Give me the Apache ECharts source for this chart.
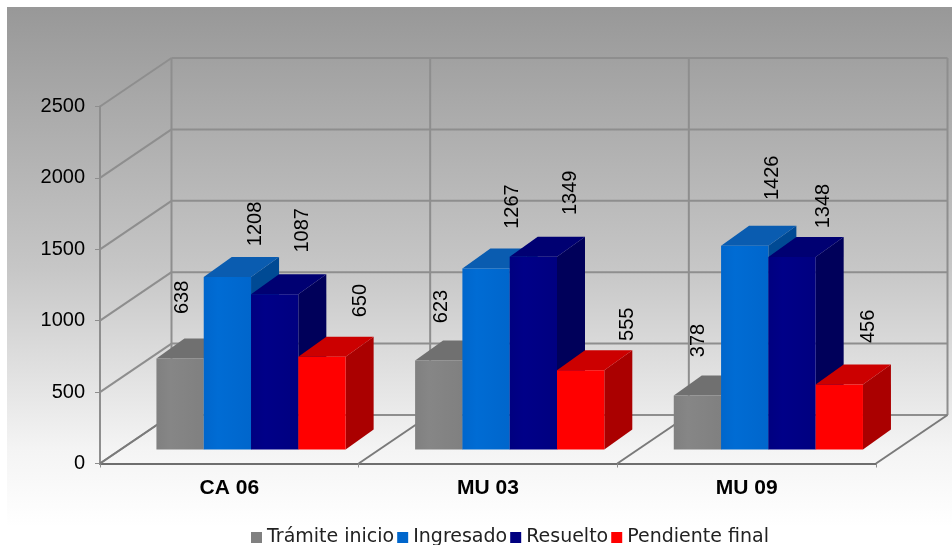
<!DOCTYPE html>
<html><head><meta charset="utf-8">
<style>html,body{margin:0;padding:0;background:#fff}#c{width:952px;height:545px}</style>
<script src="https://cdn.jsdelivr.net/npm/echarts@6/dist/echarts.min.js"></script>
</head><body><div id="c"></div>
<script>
const categories = ['CA 06', 'MU 03', 'MU 09'];
const seriesNames = ['Trámite inicio', 'Ingresado', 'Resuelto', 'Pendiente final'];
const tramite = [638, 623, 378];
const ingresado = [1208, 1267, 1426];
const resuelto = [1087, 1349, 1348];
const pendiente = [650, 555, 456];
const ticks = [0, 500, 1000, 1500, 2000, 2500];

const seriesValues = [tramite, ingresado, resuelto, pendiente];
const palette = [
  {front:['#868686','#808080'], top:'#707070', side:'#6a6a6a', legend:'#808080'},
  {front:['#006cd4','#0066cc'], top:'#0a5cb0', side:'#004a94', legend:'#0066cc'},
  {front:['#000088','#000080'], top:'#000072', side:'#00005a', legend:'#000080'},
  {front:['#ff0000','#ff0000'], top:'#cc0000', side:'#aa0000', legend:'#ff0000'}
];
// nudges of the value labels from the top centre of each bar's front face
const labelNudge = [
  [[2,-61],[3,-54],[1,-55]],
  [[28,-53],[26,-62],[28,-68]],
  [[28,-64],[37,-64],[31,-51]],
  [[39,-56],[47,-46],[29,-58]]
];
const DEPTH = [71.5, -48.5];
const BAR = {w: 47.3, dx: 28, dy: -20, baseDx: 21.7, baseDy: -14};
const GRID = '#8e8e8e';

function line(x1,y1,x2,y2,color,w){
  return {type:'line', shape:{x1,y1,x2,y2}, style:{stroke:color||GRID, lineWidth:w||2}, silent:true};
}
function poly(points, fill){
  return {type:'polygon', shape:{points}, style:{fill, stroke:null}, silent:true};
}

function renderTick(params, api){
  const cs = params.coordSys;
  const p = api.coord([0, api.value(1)]);
  const y = p[1], x0 = cs.x, x1 = cs.x + cs.width;
  const kids = [
    line(x0, y, x0 + DEPTH[0], y + DEPTH[1]),
    line(x0 + DEPTH[0], y + DEPTH[1], x1 + DEPTH[0], y + DEPTH[1])
  ];
  return {type:'group', children: kids};
}
function renderCatLine(params, api){
  const cs = params.coordSys;
  const top = cs.y, bot = cs.y + cs.height;
  const band = api.size([1,0])[0];
  const c = api.coord([api.value(0), 0]);
  const x = c[0] - band/2;
  const kids = [
    line(x + DEPTH[0], top + DEPTH[1], x + DEPTH[0], bot + DEPTH[1]),
    line(x, bot, x + DEPTH[0], bot + DEPTH[1], '#7a7a7a')
  ];
  if (api.value(0) === categories.length - 1) {
    const xe = x + band;
    kids.push(line(xe + DEPTH[0], top + DEPTH[1], xe + DEPTH[0], bot + DEPTH[1]));
    kids.push(line(xe, bot, xe + DEPTH[0], bot + DEPTH[1], '#7a7a7a'));
  }
  return {type:'group', children: kids};
}
function makeBarRender(si){
  return function(params, api){
    const cat = api.value(0), v = api.value(1);
    const c0 = api.coord([cat, 0]), cv = api.coord([cat, v]);
    const cx = c0[0] + BAR.baseDx + (si - 1.5) * BAR.w;
    const xl = cx - BAR.w/2, xr = cx + BAR.w/2;
    const yb = c0[1] + BAR.baseDy, yt = cv[1] + BAR.baseDy;
    const col = palette[si];
    const n = labelNudge[si][cat];
    return {type:'group', children:[
      poly([[xr,yb],[xr+BAR.dx,yb+BAR.dy],[xr+BAR.dx,yt+BAR.dy],[xr,yt]], col.side),
      poly([[xl,yt],[xr,yt],[xr+BAR.dx,yt+BAR.dy],[xl+BAR.dx,yt+BAR.dy]], col.top),
      {type:'rect', shape:{x:xl,y:yt,width:BAR.w,height:yb-yt}, silent:true, style:{
        fill:{type:'linear',x:0,y:0,x2:1,y2:0,colorStops:[
          {offset:0,color:col.front[1]},{offset:0.3,color:col.front[0]},{offset:1,color:col.front[1]}]}}},
      {type:'text', x:cx+n[0], y:yt+n[1], rotation:Math.PI/2, silent:true, z2:100, style:{
        text:String(v), fill:'#000', font:'20px "Liberation Sans"', align:'center', verticalAlign:'middle'}}
    ]};
  };
}

const barSeries = seriesNames.map((name,si)=>({
  type:'custom', name, coordinateSystem:'cartesian2d', clip:false, z:5+si,
  encode:{x:0,y:1}, itemStyle:{color:palette[si].legend},
  data: seriesValues[si].map((v,i)=>[i,v]),
  renderItem: makeBarRender(si)
}));

const chart = echarts.init(document.getElementById('c'), null, {renderer:'canvas'});
chart.setOption({
  animation:false,
  backgroundColor:'#fff',
  graphic:[{type:'rect', z:-10, silent:true, shape:{x:7,y:7,width:945,height:520}, style:{
    fill:{type:'linear',x:0,y:0,x2:0,y2:1,colorStops:[
      {offset:0,color:'#989898'},{offset:0.5,color:'#c6c6c6'},{offset:0.85,color:'#f4f4f4'},{offset:1,color:'#ffffff'}]}}}],
  grid:{left:100, top:106.5, width:776, height:357, containLabel:false},
  xAxis:{type:'category', data:categories,
    axisLine:{show:true,lineStyle:{color:'#6e6e6e',width:2}},
    axisTick:{show:true,length:4,alignWithLabel:false,lineStyle:{color:'#8e8e8e'}},
    axisLabel:{color:'#000',fontFamily:'Liberation Sans',fontWeight:'bold',fontSize:21,margin:14},
    splitLine:{show:false}},
  yAxis:{type:'value',min:0,max:2500,interval:500,
    axisLine:{show:true,lineStyle:{color:'#8e8e8e',width:2}},
    axisTick:{show:true,length:5,lineStyle:{color:'#8e8e8e'}},
    axisLabel:{color:'#000',fontFamily:'Liberation Sans',fontSize:20,margin:15,padding:[3,0,0,0],formatter:v=>String(v)},
    splitLine:{show:false}},
  legend:{data:seriesNames, left:246, top:523, itemWidth:11, itemHeight:11, itemGap:3, icon:'rect',
    textStyle:{color:'#222',fontFamily:'DejaVu Sans',fontSize:19}, selectedMode:false},
  series:[
    {type:'custom', name:'walls', coordinateSystem:'cartesian2d', clip:false, z:1, encode:{x:0,y:1},
      data:ticks.map(t=>[0,t]), renderItem:renderTick, silent:true},
    {type:'custom', name:'floor', coordinateSystem:'cartesian2d', clip:false, z:1, encode:{x:0,y:1},
      data:categories.map((c,i)=>[i,0]), renderItem:renderCatLine, silent:true}
  ].concat(barSeries)
});
</script></body></html>
